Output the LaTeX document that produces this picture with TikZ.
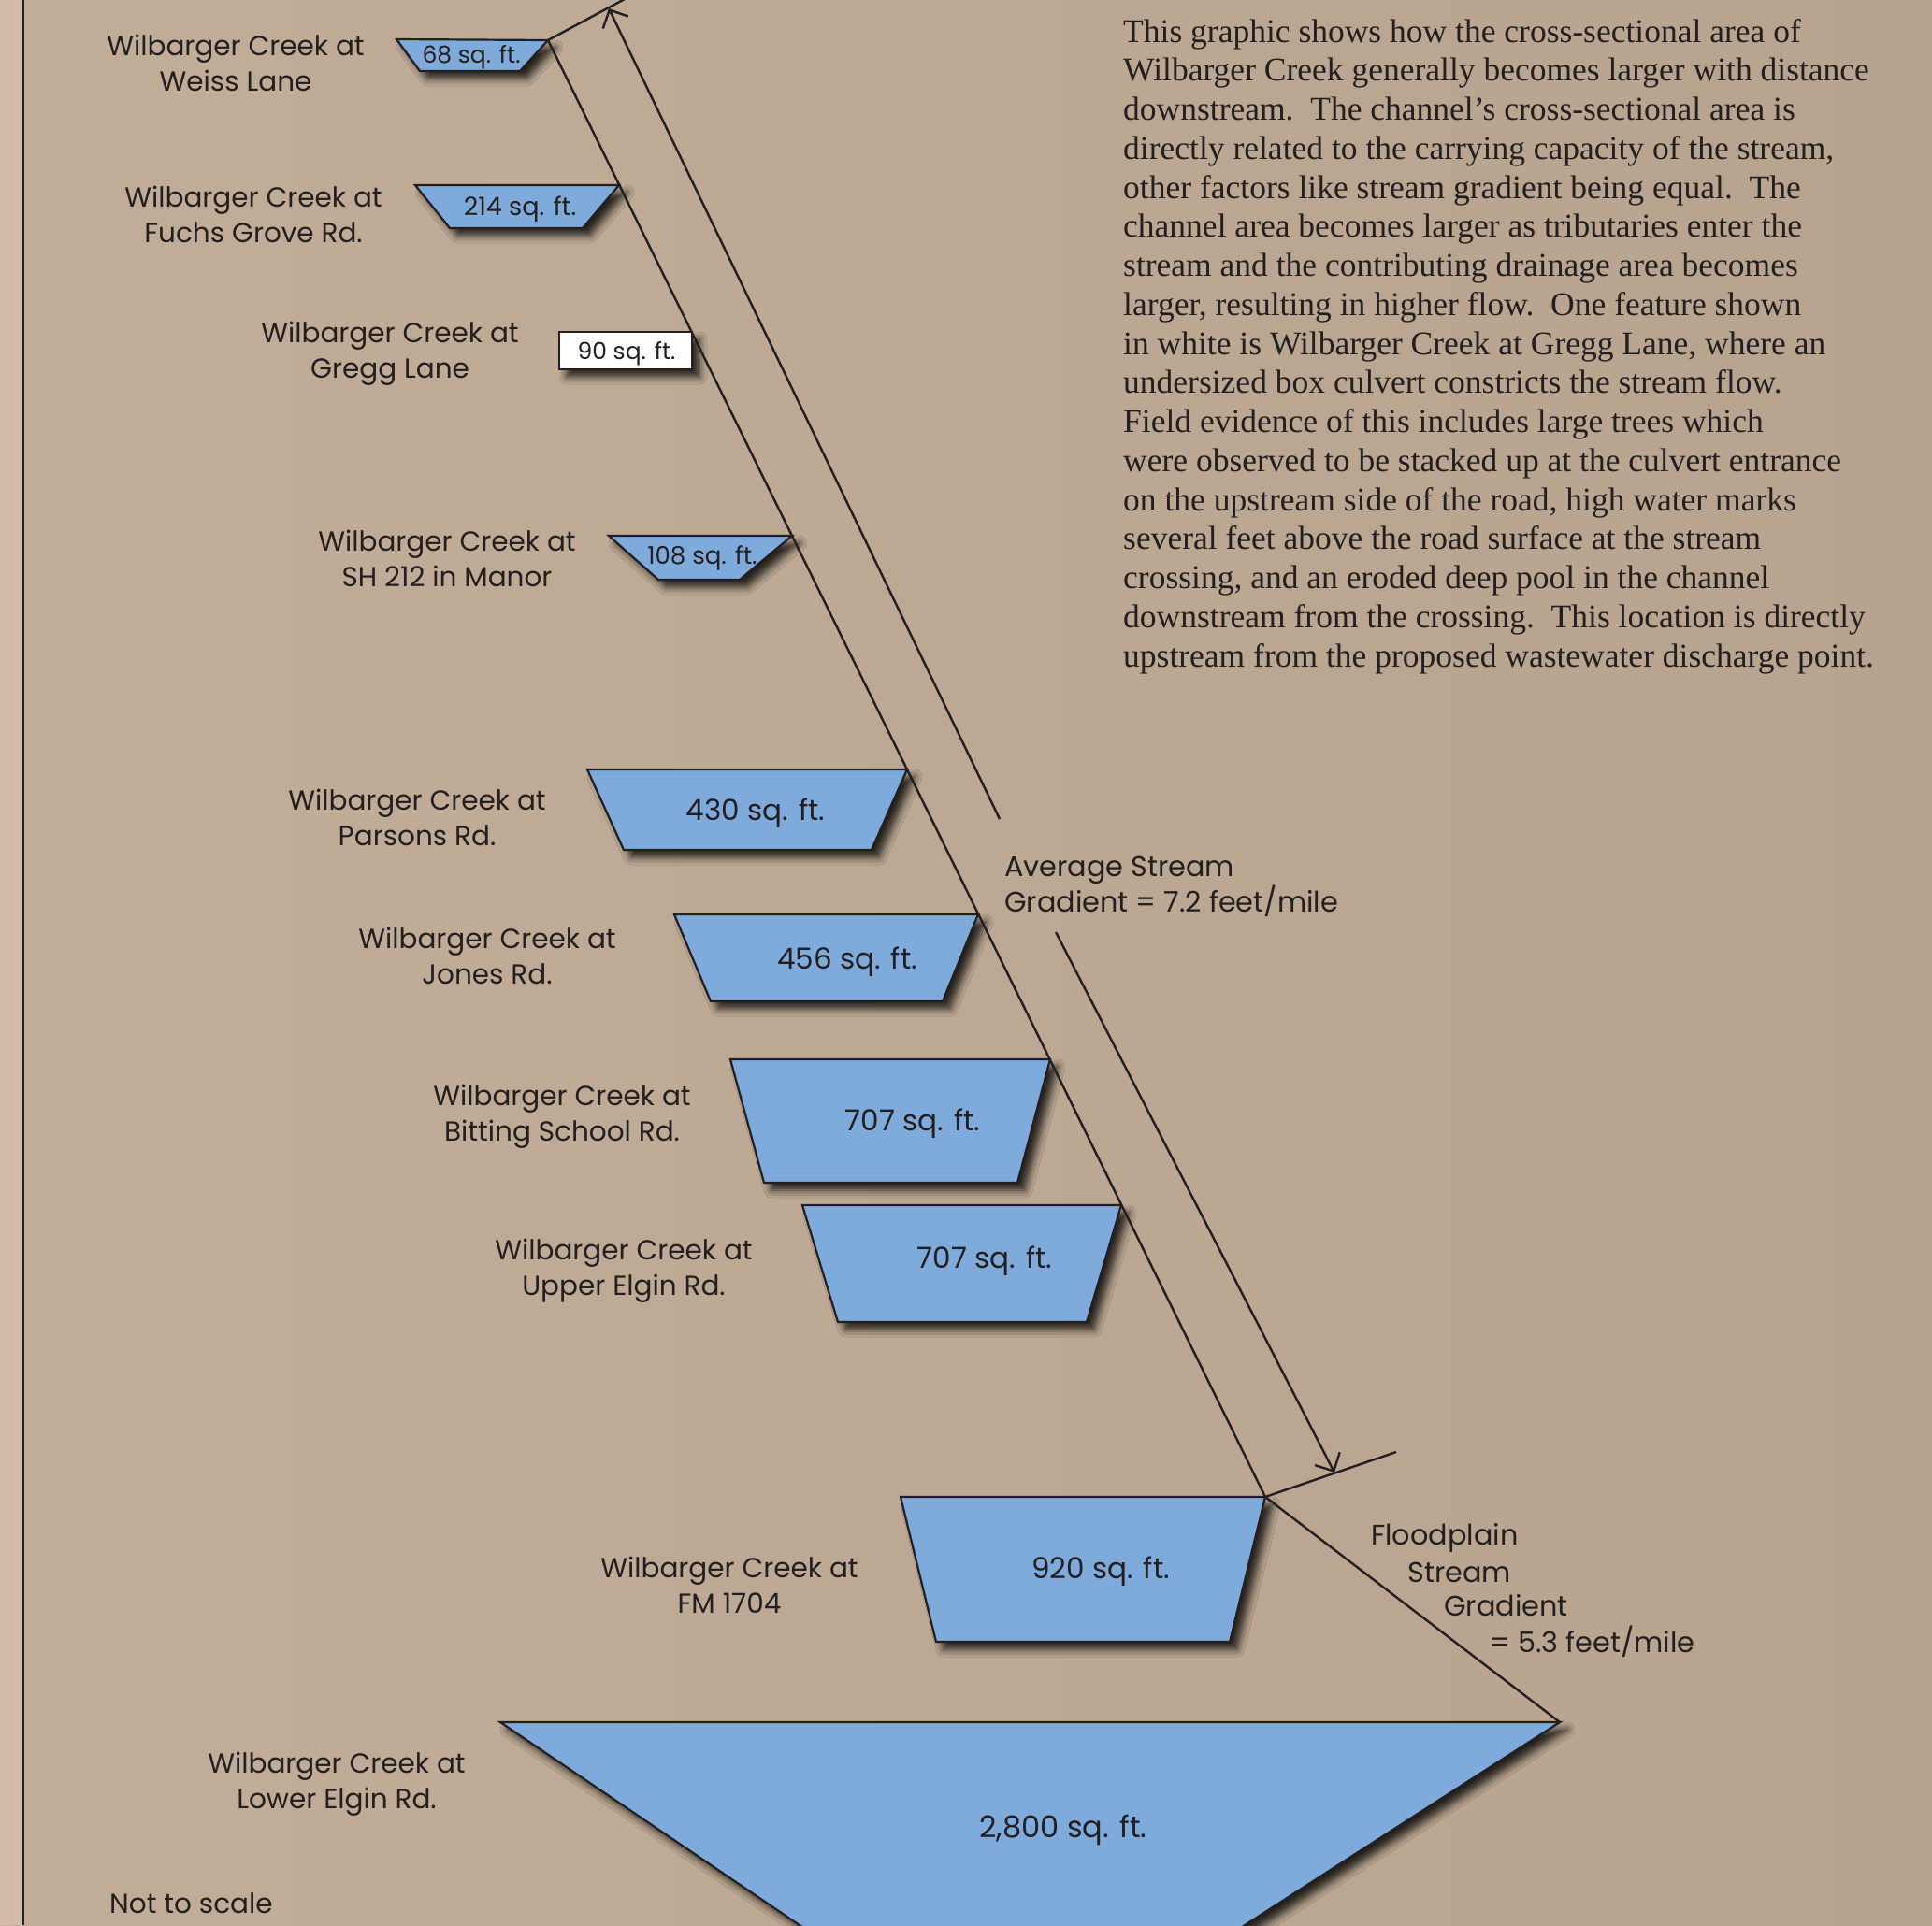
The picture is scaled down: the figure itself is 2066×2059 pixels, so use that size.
\documentclass[tikz,border=0pt]{standalone}
\usepackage{fontspec}
\setmainfont{Liberation Serif}
\newfontfamily\labfont{Poppins}
\usetikzlibrary{arrows.meta,shadows.blur}
\definecolor{bgL}{HTML}{C1AD98}
\definecolor{bgR}{HTML}{B7A38E}
\definecolor{stripcol}{HTML}{D2BCA9}
\definecolor{trapblue}{HTML}{7EABDC}
\definecolor{ink}{HTML}{231F20}
\begin{document}
\begin{tikzpicture}[x=1pt,y=-1pt,
  trap/.style={fill=trapblue, draw=ink, line width=2.2pt, line join=miter,
    blur shadow={shadow xshift=8pt, shadow yshift=-8pt, shadow blur radius=8pt, shadow opacity=80}},
  lbl/.style={font=\labfont\fontsize{29.5}{38}\selectfont, text=ink, align=center, inner sep=0pt},
  areatxt/.style={font=\labfont\fontsize{#1}{#1}\selectfont, text=ink, inner sep=0pt},
  guide/.style={draw=ink, line width=2.4pt},
  paraline/.style={font=\fontsize{35.5}{41.75}\selectfont, text=ink, anchor=base west, inner sep=0pt},
  side/.style={font=\labfont\fontsize{30.3}{38}\selectfont, text=ink, anchor=base west, inner sep=0pt},
  >={Straight Barb[length=15pt,width=30pt]}]
\useasboundingbox (0,0) rectangle (2066,2059);
% background
\fill[left color=bgL, right color=bgR] (0,0) rectangle (2066,2059);
\fill[stripcol] (0,0) rectangle (23,2059);
\draw[ink, line width=2.6pt] (24.5,0) -- (24.5,2059);

% coordinates of the cross sections
\coordinate (t1tl) at (424,42);  \coordinate (t1tr) at (586,43);   \coordinate (t1br) at (556,76);   \coordinate (t1bl) at (449,76);
\coordinate (t2tl) at (444,198); \coordinate (t2tr) at (662,198);  \coordinate (t2br) at (623,244);  \coordinate (t2bl) at (481,244);
\coordinate (gtl) at (598,355);  \coordinate (gbr) at (740,395);
\coordinate (t3tl) at (651,573); \coordinate (t3tr) at (847,573);  \coordinate (t3br) at (791,620);  \coordinate (t3bl) at (704,620);
\coordinate (t4tl) at (628,823); \coordinate (t4tr) at (970,823);  \coordinate (t4br) at (932,909);  \coordinate (t4bl) at (667,909);
\coordinate (t5tl) at (721,978); \coordinate (t5tr) at (1046,978); \coordinate (t5br) at (1008,1071); \coordinate (t5bl) at (760,1071);
\coordinate (t6tl) at (781,1133); \coordinate (t6tr) at (1123,1133); \coordinate (t6br) at (1088,1265); \coordinate (t6bl) at (817,1265);
\coordinate (t7tl) at (858,1289); \coordinate (t7tr) at (1199,1289); \coordinate (t7br) at (1162,1414); \coordinate (t7bl) at (896,1414);
\coordinate (t8tl) at (963,1601); \coordinate (t8tr) at (1353,1601); \coordinate (t8br) at (1315,1756); \coordinate (t8bl) at (1001,1756);
\coordinate (t9tl) at (535,1842); \coordinate (t9tr) at (1668,1842); \coordinate (t9br) at (1190,2150); \coordinate (t9bl) at (989,2150);

% cross sections
\path[trap] (t1tl) -- (t1tr) -- (t1br) -- (t1bl) -- cycle;
\path[trap] (t2tl) -- (t2tr) -- (t2br) -- (t2bl) -- cycle;
\path[trap, fill=white] (gtl) rectangle (gbr);
\path[trap] (t3tl) -- (t3tr) -- (t3br) -- (t3bl) -- cycle;
\path[trap] (t4tl) -- (t4tr) -- (t4br) -- (t4bl) -- cycle;
\path[trap] (t5tl) -- (t5tr) -- (t5br) -- (t5bl) -- cycle;
\path[trap] (t6tl) -- (t6tr) -- (t6br) -- (t6bl) -- cycle;
\path[trap] (t7tl) -- (t7tr) -- (t7br) -- (t7bl) -- cycle;
\path[trap] (t8tl) -- (t8tr) -- (t8br) -- (t8bl) -- cycle;
\begin{scope}
\clip (0,0) rectangle (2066,2059);
\path[trap] (t9tl) -- (t9tr) -- (t9br) -- (t9bl) -- cycle;
\end{scope}

% area values
\node[areatxt=25] (a1) at (504,61) {68 sq. ft.};
\node[areatxt=27] (a2) at (556,224) {214 sq. ft.};
\node[areatxt=25] (a3) at (670,378) {90 sq. ft.};
\node[areatxt=26] (a4) at (751,597) {108 sq. ft.};
\node[areatxt=31] (a5) at (808,870) {430 sq. ft.};
\node[areatxt=31] (a6) at (906,1029) {456 sq. ft.};
\node[areatxt=31] (a7) at (976,1202) {707 sq. ft.};
\node[areatxt=31] (a8) at (1053,1349) {707 sq. ft.};
\node[areatxt=31] (a9) at (1177,1681) {920 sq. ft.};
\node[areatxt=32] (a10) at (1137,1957) {2,800 sq. ft.};

% location labels
\node[lbl] (l1) at (252,67) {Wilbarger Creek at\\Weiss Lane};
\node[lbl] (l2) at (271,229) {Wilbarger Creek at\\Fuchs Grove Rd.};
\node[lbl] (l3) at (417,378) {Wilbarger Creek at\\Gregg Lane};
\node[lbl] (l4) at (478,597) {Wilbarger Creek at\\SH 212 in Manor};
\node[lbl] (l5) at (446,874) {Wilbarger Creek at\\Parsons Rd.};
\node[lbl] (l6) at (521,1022) {Wilbarger Creek at\\Jones Rd.};
\node[lbl] (l7) at (601,1194) {Wilbarger Creek at\\Bitting School Rd.};
\node[lbl] (l8) at (667,1359) {Wilbarger Creek at\\Upper Elgin Rd.};
\node[lbl] (l9) at (780,1695) {Wilbarger Creek at\\FM 1704};
\node[lbl] (l10) at (360,1908) {Wilbarger Creek at\\Lower Elgin Rd.};
\node[lbl, anchor=west] (nts) at (117,2036) {Not to scale};

% stream line, gradient lines and dimension arrow
\coordinate (ext1) at (668,-1);
\coordinate (ext2) at (1493,1553);
\coordinate (atop) at (651,9);
\coordinate (amidA) at (1069,876);
\coordinate (amidB) at (1129,997);
\coordinate (abot) at (1427,1575);
\draw[guide] (t1tr) -- (t8tr) -- (t9tr);
\draw[guide] (t1tr) -- (ext1);
\draw[guide] (t8tr) -- (ext2);
\draw[guide, ->] (amidA) -- (atop);
\draw[guide, ->] (amidB) -- (abot);

% gradient labels
\node[side] (g1) at (1074,937) {Average Stream};
\node[side] (g2) at (1074,975) {Gradient = 7.2 feet/mile};
\node[side] (f1) at (1466,1652) {Floodplain};
\node[side] (f2) at (1505,1692) {Stream};
\node[side] (f3) at (1544,1728) {Gradient};
\node[side] (f4) at (1593,1767) {= 5.3 feet/mile};

% explanatory paragraph
\node[paraline] (p1) at (1201,45) {This graphic shows how the cross-sectional area of};
\node[paraline] (p2) at (1201,86.75) {Wilbarger Creek generally becomes larger with distance};
\node[paraline] (p3) at (1201,128.5) {downstream.\ \ The channel’s cross-sectional area is};
\node[paraline] (p4) at (1201,170.25) {directly related to the carrying capacity of the stream,};
\node[paraline] (p5) at (1201,212) {other factors like stream gradient being equal.\ \ The};
\node[paraline] (p6) at (1201,253.75) {channel area becomes larger as tributaries enter the};
\node[paraline] (p7) at (1201,295.5) {stream and the contributing drainage area becomes};
\node[paraline] (p8) at (1201,337.25) {larger, resulting in higher flow.\ \ One feature shown};
\node[paraline] (p9) at (1201,379) {in white is Wilbarger Creek at Gregg Lane, where an};
\node[paraline] (p10) at (1201,420.75) {undersized box culvert constricts the stream flow.};
\node[paraline] (p11) at (1201,462.5) {Field evidence of this includes large trees which};
\node[paraline] (p12) at (1201,504.25) {were observed to be stacked up at the culvert entrance};
\node[paraline] (p13) at (1201,546) {on the upstream side of the road, high water marks};
\node[paraline] (p14) at (1201,587.75) {several feet above the road surface at the stream};
\node[paraline] (p15) at (1201,629.5) {crossing, and an eroded deep pool in the channel};
\node[paraline] (p16) at (1201,671.25) {downstream from the crossing.\ \ This location is directly};
\node[paraline] (p17) at (1201,713) {upstream from the proposed wastewater discharge point.};
\end{tikzpicture}
\end{document}
